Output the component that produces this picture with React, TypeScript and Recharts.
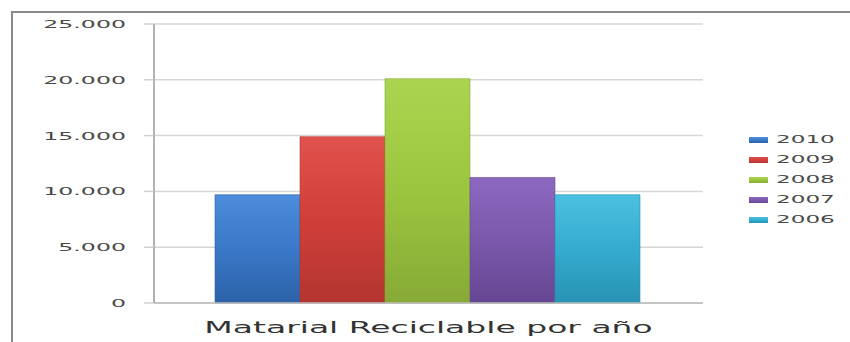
import React from 'react';
import { BarChart, Bar, XAxis, YAxis, CartesianGrid, Legend } from 'recharts';

const categories = ['Matarial Reciclable por año'];
const seriesNames = ['2010', '2009', '2008', '2007', '2006'];
const seriesValues = [9700, 14900, 20100, 11250, 9700];
const yTicks = [0, 5000, 10000, 15000, 20000, 25000];
const seriesColors = [
  { top: '#4d8ddb', mid: '#3a78c8', bottom: '#2c62a8' },
  { top: '#e0524d', mid: '#d03f3a', bottom: '#b33530' },
  { top: '#abd550', mid: '#9cc53f', bottom: '#86aa35' },
  { top: '#8d68bf', mid: '#7b58ac', bottom: '#664692' },
  { top: '#4cc0e0', mid: '#35accf', bottom: '#2793b3' },
];

const data = categories.map((c) => {
  const row: Record<string, string | number> = { name: c };
  seriesNames.forEach((s, i) => {
    row[s] = seriesValues[i];
  });
  return row;
});

const fmt = (n: number) => String(n).replace(/\B(?=(\d{3})+(?!\d))/g, '.');

const FONT = '"DejaVu Sans", Verdana, sans-serif';

const YTick = (props: any) => {
  const { x, y, payload } = props;
  return (
    <text
      transform={`translate(${x},${y + 4}) scale(2.15,1)`}
      textAnchor="end"
      fontSize={11}
      fill="#4a4a4a"
      fontFamily={FONT}
    >
      {fmt(payload.value)}
    </text>
  );
};

const XTick = (props: any) => {
  const { x, y, payload } = props;
  return (
    <text
      transform={`translate(${x},${y + 30}) scale(2.2,1)`}
      textAnchor="middle"
      fontSize={15}
      fill="#333"
      fontFamily={FONT}
    >
      {payload.value}
    </text>
  );
};

const renderLegend = () => (
  <div style={{ fontFamily: FONT, width: 100 }}>
    {seriesNames.map((s, i) => (
      <div key={s} style={{ height: 20, position: 'relative' }}>
        <div
          style={{
            position: 'absolute',
            left: 0,
            top: 8,
            width: 19,
            height: 6,
            background: `linear-gradient(to bottom, ${seriesColors[i].top}, ${seriesColors[i].mid} 50%, ${seriesColors[i].bottom})`,
          }}
        />
        <span
          style={{
            position: 'absolute',
            left: 27,
            top: 1,
            lineHeight: '20px',
            fontSize: 11,
            color: '#4a4a4a',
            display: 'inline-block',
            transform: 'scaleX(2.1)',
            transformOrigin: 'left center',
            whiteSpace: 'nowrap',
          }}
        >
          {s}
        </span>
      </div>
    ))}
  </div>
);

export default function App() {
  return (
    <div style={{ position: 'absolute', left: 0, top: 0, width: 850, height: 342, background: '#fff', overflow: 'hidden' }}>
      <div
        style={{
          position: 'absolute',
          left: 11,
          top: 11,
          width: 860,
          height: 360,
          borderLeft: '2px solid #8a8a8a',
          borderTop: '2px solid #8a8a8a',
        }}
      />
      <div style={{ position: 'absolute', left: 0, top: 0 }}>
        <BarChart
          width={850}
          height={342}
          data={data}
          margin={{ top: 24, right: 47, bottom: 0, left: 0 }}
          barGap={0}
          barCategoryGap={61}
        >
          <defs>
            {seriesColors.map((c, i) => (
              <linearGradient key={i} id={`g${i}`} x1="0" y1="0" x2="0" y2="1">
                <stop offset="0%" stopColor={c.top} />
                <stop offset="50%" stopColor={c.mid} />
                <stop offset="100%" stopColor={c.bottom} />
              </linearGradient>
            ))}
          </defs>
          <CartesianGrid vertical={false} stroke="#d6d6d6" strokeWidth={1.5} />
          <XAxis
            dataKey="name"
            height={39}
            tickLine={false}
            tickSize={0}
            tickMargin={0}
            axisLine={{ stroke: '#bdbdbd', strokeWidth: 1.5 }}
            tick={<XTick />}
            interval={0}
          />
          <YAxis
            width={154}
            domain={[0, 25000]}
            ticks={yTicks}
            interval={0}
            tickSize={10}
            tickMargin={18}
            tickLine={{ stroke: '#d0d0d0', strokeWidth: 1.5 }}
            axisLine={{ stroke: '#9a9a9a', strokeWidth: 1.5 }}
            tick={<YTick />}
          />
          <Legend
            layout="vertical"
            align="right"
            verticalAlign="top"
            wrapperStyle={{ position: 'absolute', left: 749, top: 129, width: 100, right: 'auto' }}
            content={renderLegend}
          />
          {seriesNames.map((s, i) => (
            <Bar
              key={s}
              dataKey={s}
              fill={`url(#g${i})`}
              stroke={seriesColors[i].bottom}
              strokeWidth={0.6}
              isAnimationActive={false}
            />
          ))}
        </BarChart>
      </div>
    </div>
  );
}
